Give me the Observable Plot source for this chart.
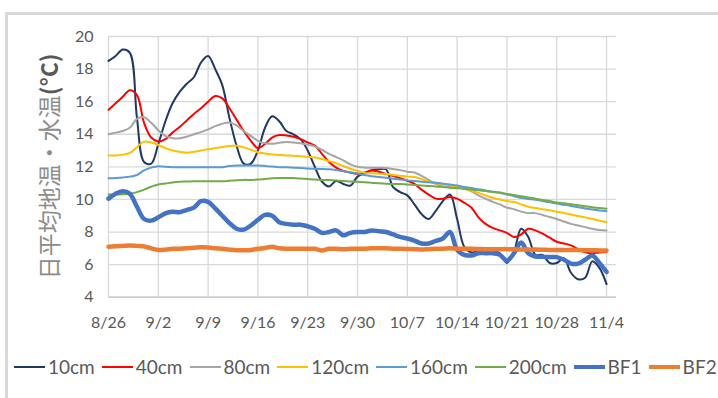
<!DOCTYPE html>
<html><head><meta charset="utf-8">
<script src="https://cdn.jsdelivr.net/npm/d3@7"></script>
<script src="https://cdn.jsdelivr.net/npm/@observablehq/plot@0.6"></script>
<style>
html,body{margin:0;padding:0;background:#fff;overflow:hidden;width:718px;height:398px;}
#frame{position:absolute;left:5px;top:12px;width:900px;height:600px;border-left:3px solid #d9d9d9;border-top:3px solid #d9d9d9;}
#chart{position:absolute;left:0;top:0;}
#legend{position:absolute;left:14px;top:355px;display:flex;align-items:center;white-space:nowrap;font-family:Lato,sans-serif;font-size:19px;color:#595959;}
#legend .item{display:flex;align-items:center;margin-right:7px;}
#legend .sw{display:inline-block;width:31px;margin-right:3px;}
</style></head>
<body>
<div id="frame"></div>
<div id="chart"></div>
<div id="legend"></div>
<script>
const startDate = [2020, 7, 26];
const xTickLabels = ["8/26","9/2","9/9","9/16","9/23","9/30","10/7","10/14","10/21","10/28","11/4"];
const yTicks = [4,6,8,10,12,14,16,18,20];
const yTitleMain = "日平均地温・水温";
const yTitleUnit = "(°C)";
const seriesNames = ["10cm","40cm","80cm","120cm","160cm","200cm","BF1","BF2"];

const t10 = [18.5,18.8,19.2,19.0,15.0,12.3,12.2,13.4,14.8,15.9,
  16.6,17.1,17.5,18.4,18.8,18.0,17.0,15.0,13.3,12.2,
  12.2,13.0,14.4,15.1,14.8,14.2,14.0,13.7,13.0,12.0,
  11.1,10.8,11.15,10.95,10.85,11.4,11.6,11.8,11.85,11.85,
  10.75,10.45,10.25,9.7,9.1,8.8,9.3,9.9,10.3,8.8,
  7.1,6.75,6.8,6.85,6.85,6.7,6.1,6.8,8.2,7.7,
  6.6,6.6,6.1,6.1,6.4,5.5,5.1,5.2,6.2,5.8,4.8];
const t40 = [15.5,15.9,16.3,16.7,16.4,14.7,13.8,13.55,13.7,14.1,
  14.45,14.85,15.25,15.6,16.0,16.35,16.2,15.6,14.9,14.2,
  13.6,13.15,13.4,13.8,13.95,13.93,13.85,13.7,13.5,13.3,
  12.8,12.3,11.95,11.75,11.65,11.57,11.65,11.78,11.7,11.57,
  11.45,11.3,11.15,10.95,10.6,10.3,10.05,10.05,10.15,10.05,
  9.8,9.5,8.9,8.5,8.25,8.1,7.95,7.7,7.85,8.2,
  8.1,7.9,7.65,7.4,7.3,7.18,6.95,6.75,6.7,6.75,6.77];
const t80 = [14.0,14.1,14.2,14.4,14.95,15.05,14.7,14.25,13.9,13.75,
  13.75,13.85,14.0,14.13,14.3,14.5,14.65,14.72,14.55,14.2,
  13.9,13.6,13.45,13.42,13.48,13.52,13.5,13.45,13.35,13.25,
  13.05,12.8,12.6,12.4,12.15,12.0,11.95,11.94,11.94,11.93,
  11.87,11.8,11.7,11.65,11.45,11.2,10.95,10.8,10.76,10.72,
  10.66,10.5,10.25,10.05,9.85,9.7,9.5,9.4,9.25,9.16,
  9.16,9.05,8.92,8.8,8.65,8.5,8.4,8.3,8.2,8.12,8.1];
const t120 = [12.7,12.7,12.75,12.85,13.2,13.55,13.5,13.35,13.15,13.0,
  12.92,12.87,12.92,13.0,13.08,13.15,13.22,13.28,13.3,13.2,
  13.05,12.9,12.82,12.76,12.72,12.7,12.68,12.65,12.62,12.58,
  12.48,12.35,12.22,12.05,11.88,11.75,11.63,11.6,11.58,11.57,
  11.5,11.45,11.4,11.38,11.25,11.1,11.0,10.92,10.86,10.76,
  10.66,10.55,10.4,10.25,10.1,10.0,9.9,9.84,9.7,9.55,
  9.47,9.4,9.33,9.25,9.17,9.08,8.98,8.9,8.8,8.7,8.6];
const t160 = [11.3,11.32,11.35,11.4,11.5,11.78,11.95,12.04,12.0,11.98,
  11.98,11.98,11.98,11.98,11.98,11.98,11.98,12.05,12.08,12.08,
  12.08,12.08,12.05,12.02,11.98,11.97,11.95,11.93,11.9,11.88,
  11.87,11.85,11.8,11.73,11.67,11.58,11.5,11.43,11.38,11.33,
  11.27,11.22,11.17,11.13,11.09,11.06,11.02,10.97,10.92,10.85,
  10.77,10.7,10.62,10.55,10.48,10.41,10.3,10.2,10.1,10.03,
  9.98,9.9,9.82,9.75,9.67,9.6,9.52,9.45,9.38,9.32,9.28];
const t200 = [10.3,10.3,10.32,10.35,10.45,10.6,10.78,10.92,10.98,11.04,
  11.08,11.1,11.12,11.12,11.12,11.12,11.12,11.15,11.18,11.2,
  11.2,11.22,11.26,11.3,11.32,11.32,11.31,11.28,11.25,11.22,
  11.2,11.19,11.17,11.13,11.1,11.08,11.06,11.03,10.99,10.96,
  10.95,10.94,10.92,10.89,10.86,10.83,10.8,10.76,10.72,10.69,
  10.66,10.61,10.56,10.51,10.46,10.42,10.34,10.27,10.2,10.12,
  10.05,9.97,9.9,9.82,9.76,9.7,9.64,9.58,9.52,9.47,9.43];
const bf1 = [10.05,10.35,10.5,10.35,9.55,8.8,8.7,8.9,9.15,9.25,
  9.22,9.35,9.5,9.9,9.85,9.45,9.0,8.55,8.2,8.15,
  8.4,8.75,9.05,9.0,8.6,8.5,8.45,8.45,8.35,8.2,
  7.95,8.0,8.1,7.8,7.95,8.0,8.0,8.1,8.05,8.0,
  7.85,7.7,7.6,7.47,7.3,7.3,7.45,7.6,8.0,6.9,
  6.6,6.56,6.7,6.7,6.7,6.6,6.25,6.7,7.35,6.7,
  6.5,6.48,6.46,6.46,6.3,6.06,6.06,6.3,6.56,6.1,5.55];
const bf2 = [7.1,7.12,7.15,7.18,7.15,7.12,7.0,6.9,6.92,6.97,
  6.98,7.0,7.03,7.07,7.05,7.0,6.97,6.92,6.88,6.88,
  6.9,6.97,7.02,7.1,7.0,6.97,6.97,6.97,6.97,6.97,
  6.87,6.97,6.97,6.95,6.97,6.98,6.98,7.0,7.0,7.0,
  6.98,6.97,6.96,6.95,6.93,6.95,6.97,6.98,7.0,6.98,
  6.97,6.97,6.96,6.95,6.95,6.95,6.95,6.94,6.93,6.92,
  6.92,6.91,6.9,6.9,6.9,6.89,6.89,6.88,6.88,6.87,6.87];

const seriesValues = [t10,t40,t80,t120,t160,t200,bf1,bf2];
const seriesColors = ["#1f3864","#ff0000","#a5a5a5","#ffc000","#5b9bd5","#70ad47","#4472c4","#ed7d31"];
const seriesWidths = [2,2,2,2,2,2,4.5,4.5];

const DAY = 86400000;
const t0 = Date.UTC(...startDate);
const dateOf = i => new Date(t0 + i*DAY);
const xTickDates = xTickLabels.map((_, i) => dateOf(i*7));
const labelByTime = new Map(xTickDates.map((d, i) => [+d, xTickLabels[i]]));

const marks = [
  Plot.ruleY(yTicks, {stroke:"#d9d9d9", strokeWidth:1.3}),
  Plot.ruleX(xTickDates, {y1:4, y2:20, stroke:"#d9d9d9", strokeWidth:1.3}),
  Plot.ruleY([4], {stroke:"#c8c8c8", strokeWidth:1.3})
];
seriesNames.forEach((name, k) => {
  const rows = seriesValues[k].map((v, i) => ({date: dateOf(i), value: v}));
  marks.push(Plot.line(rows, {x:"date", y:"value", stroke: seriesColors[k], strokeWidth: seriesWidths[k], curve:"catmull-rom", strokeLinejoin:"round", strokeLinecap:"round"}));
});

const chart = Plot.plot({
  width:718, height:340,
  marginLeft:108, marginRight:102, marginTop:36, marginBottom:43.3,
  x:{type:"utc", domain:[dateOf(0), new Date(t0 + 71.4*DAY)], ticks:xTickDates, tickFormat: d => labelByTime.get(+d) || "", tickSize:0, tickPadding:19, label:null},
  y:{domain:[4,20], ticks:yTicks, tickSize:0, tickPadding:15, label:null},
  style:{fontFamily:"Lato, sans-serif", fontSize:"16px", color:"#595959", background:"transparent", overflow:"visible"},
  marks
});
document.getElementById("chart").appendChild(chart);

// y-axis title, centred on the plot frame's vertical middle
const title = d3.select(chart).append("text")
  .attr("transform", `translate(48,${(36 + 296.7) / 2}) rotate(-90)`)
  .attr("text-anchor", "middle")
  .attr("dominant-baseline", "central")
  .attr("font-family", "'Noto Sans CJK JP', sans-serif")
  .attr("font-size", 23);
title.append("tspan").attr("fill", "#8c8c8c").text(yTitleMain);
title.append("tspan").attr("fill", "#595959").attr("font-weight", "bold").text(yTitleUnit);

const legend = document.getElementById("legend");
seriesNames.forEach((name, k) => {
  const item = document.createElement("div");
  item.className = "item";
  const sw = document.createElement("span");
  sw.className = "sw";
  sw.style.background = seriesColors[k];
  sw.style.height = (seriesWidths[k] > 3 ? 4 : 2) + "px";
  const tx = document.createElement("span");
  tx.textContent = name;
  item.appendChild(sw); item.appendChild(tx);
  legend.appendChild(item);
});
</script>
</body></html>
